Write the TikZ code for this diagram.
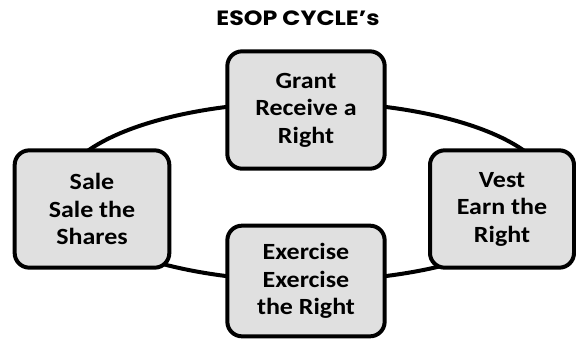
\documentclass[tikz,border=0pt]{standalone}
\usepackage{fontspec}
\setmainfont{Carlito}[FakeStretch=1.12]
\newfontfamily\titlefont{Poppins}[FakeStretch=1.15]
\usepackage{xcolor}
\definecolor{boxgray}{RGB}{224,224,224}

\tikzset{
  stage/.style={draw=black, line width=3pt, fill=boxgray, rounded corners=11pt,
    align=center, font=\fontsize{17.4}{20.6}\selectfont\bfseries, inner sep=0pt},
  ring/.style={draw=black, line width=3pt}
}

\begin{document}
\begin{tikzpicture}[x=0.75pt,y=0.75pt,yscale=-1.,xscale=1.]
    \useasboundingbox (0,0) rectangle (576,340);

    % cycle behind the stages
    \coordinate (hub) at (306,191.5);
    \draw [ring] (hub) ellipse [x radius=245*0.75pt, y radius=89.4*0.75pt];

    % Title
    \node (title) at (298,18) [font=\titlefont\fontsize{15.5}{17}\selectfont\bfseries] {ESOP CYCLE’s};

    % Stages
    \node (grant) at (306,110) [stage, minimum width=118pt, minimum height=88pt] {Grant\\Receive a\\Right};
    \node (sale) at (92,209) [stage, minimum width=116pt, minimum height=88pt] {Sale\\Sale the\\Shares};
    \node (vest) at (502,209) [stage, minimum width=108pt, minimum height=88pt] {Vest\\Earn the\\Right};
    \node (exercise) at (306,281) [stage, minimum width=118pt, minimum height=83pt] {Exercise\\Exercise\\the Right};

\end{tikzpicture}
\end{document}
